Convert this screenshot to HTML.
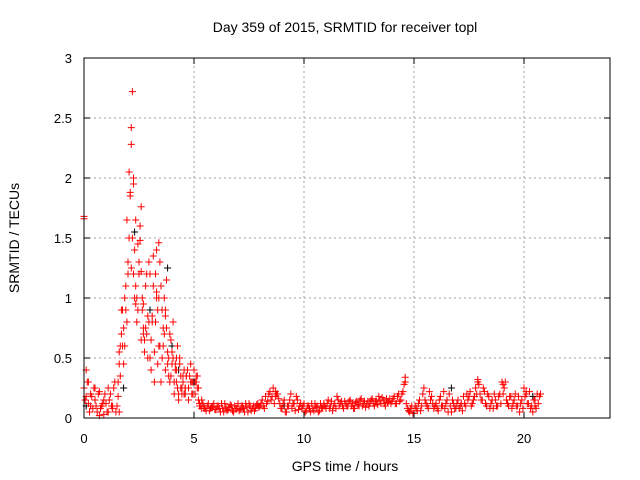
<!DOCTYPE html>
<html><head><meta charset="utf-8"><style>
html,body{margin:0;padding:0;background:#fff}
svg{display:block;font-family:"Liberation Sans",sans-serif}
</style></head><body>
<svg id="chart" width="640" height="480" xmlns="http://www.w3.org/2000/svg">
<rect width="640" height="480" fill="#fff"/>
<g id="grid"></g>
<g id="marks"></g>
<rect x="84" y="58" width="526" height="360" fill="none" stroke="#000" stroke-width="1"/>
<g id="ticks"></g>
<text x="345" y="32" font-size="14" text-anchor="middle">Day 359 of 2015, SRMTID for receiver topl</text>
<text x="345" y="471" font-size="14" text-anchor="middle">GPS time / hours</text>
<text transform="translate(19,238) rotate(-90)" font-size="14" text-anchor="middle">SRMTID / TECUs</text>
</svg>
<script>
const xTicks=[0,5,10,15,20];
const yTicks=[0,0.5,1,1.5,2,2.5,3];
const yTickLabels=["0","0.5","1","1.5","2","2.5","3"];
const red1V=[.25,.18,.12,.2,.08,.15,.05,.22,.1,.03,
.12,.05,.2,.08,.3,.1,.05,.7,.45,.9,
1.2,1.85,2.72,1.4,1.0,1.3,1.76,.7,1.1,.85,
.5,.8,.3,1.0,1.46,1.1,.6,.9,.45,.7,
.55,.3,.4,.2,.35,.3,.25,.4,.35,.3,
.4,.3,.15,.1,.12,.08,.1,.06,.09,.12,
.07,.1,.05,.08,.12,.06,.09,.1,.05,.08,
.12,.07,.1,.05,.09,.12,.06,.1,.08,.12,
.1,.15,.08,.12,.2,.15,.25,.18,.2,.12,
.08,.15,.05,.1,.2,.12,.06,.15,.1,.08,
.12,.06,.1,.05,.08,.12,.1,.06,.09,.12,
.08,.15,.1,.06,.12,.18,.1,.14,.08,.12,
.1,.15,.12,.08,.14,.1,.16,.12,.09,.14,
.12,.16,.1,.14,.18,.12,.15,.1,.13,.16,
.14,.18,.12,.2,.15,.22,.34,.08,.05,.1,
.04,.08,.12,.06,.2,.15,.1,.22,.18,.08,
.12,.06,.18,.1,.08,.15,.2,.05,.12,.08,
.15,.1,.06,.12,.2,.18,.1,.15,.25,.3,
.2,.15,.22,.1,.18,.12,.08,.15,.1,.2,
.3,.25,.15,.1,.18,.12,.2,.1,.05,.15,
.25,.2,.12,.08,.05,.15,.2,.18];
const red1Start=0, red1Step=0.1;
const red2V=[.3,.6,.9,.6,1.65,2.05,2.28,1.2,.95,1.45,
1.48,.9,.65,1.2,.8,.4,1.35,1.2,.9,.6,
.5,1.0,.75,.35,.65,.5,.4,.6,.45,.25,
.2,.35,.15,.45,.3,.2,.35,.1,.15,.08];
const red2Start=1.55, red2Step=0.1;
const red3V=[.15,.3,.05,.18,.25,.1,.2,.08,.12,.2,
.05,.15,.1,.25,.05,.18,.35,.6,1.0,.8,
1.5,1.25,2.0,1.1,.9,1.6,1.0,.55,.7,1.3,
.65,1.1,.8,.45,1.3,.9,.7,1.15,.5,.35,
.8,.45,.25,.5,.2,.4,.35,.25,.3,.2,
.3,.25,.12,.08,.1,.06,.12,.08,.1,.07,
.1,.08,.12,.05,.09,.07,.11,.06,.1,.08,
.06,.1,.08,.12,.05,.1,.08,.06,.11,.09,
.12,.1,.18,.14,.22,.18,.12,.2,.16,.08,
.12,.05,.1,.15,.08,.12,.18,.07,.12,.1,
.05,.1,.08,.12,.06,.09,.05,.12,.08,.1,
.12,.08,.14,.1,.08,.15,.12,.1,.14,.1,
.14,.1,.08,.13,.11,.15,.1,.14,.12,.1,
.15,.12,.14,.11,.15,.17,.12,.16,.14,.12,
.16,.12,.18,.14,.2,.28,.12,.06,.08,.04,
.1,.06,.15,.1,.25,.12,.08,.15,.12,.1,
.08,.15,.1,.22,.12,.05,.1,.15,.08,.12,
.08,.12,.18,.1,.15,.22,.12,.18,.2,.28,
.15,.25,.12,.2,.08,.15,.2,.1,.18,.12,
.2,.3,.12,.18,.08,.15,.1,.18,.12,.08,
.18,.12,.22,.1,.15,.08,.12,.2];
const red3Start=0.05, red3Step=0.1;
const red4V=[.45,.9,.75,1.1,1.3,1.88,1.5,1.0,.8,1.2,.65,.95,.75,.5,1.2,.85,.55,1.05,.6,.3,.75,.4,.55,.3,.45,.2,.3,.15,.25,.35,.2];
const red4Start=1.6, red4Step=0.1;
const redExtraT=[0,0,0.1,0.2,0.3,0.5,0.7,0.9,1.1,1.3,1.6,2.15,2.25,2.35,2.6,2.7,3.3,3.4,3.7,4.2,4.6,4.9,5.1,5.2,8.7,14.6,17.9,19.05,20.1,20.5];
const redExtraV=[1.66,1.68,.4,.3,.1,.25,.02,.15,.25,.1,.55,2.42,1.95,1.65,1.22,.75,1.4,1.0,.85,.5,.25,.2,.35,.25,.22,.3,.32,.28,.22,.1];
const blackT=[0.1,1.8,2.3,2.5,3.0,3.8,4.0,4.3,5.0,9.1,16.7,20.4];
const blackV=[.1,.25,1.55,1.3,.9,1.25,.6,.4,.3,.1,.25,.18];
const NS="http://www.w3.org/2000/svg";
const X0=84,X1=612,Y0=418,Y1=58;
const xs=t=>X0+t/24*(X1-X0);
const ys=v=>Y0-v/3*(Y0-Y1);
const grid=document.getElementById('grid'),ticks=document.getElementById('ticks'),marks=document.getElementById('marks');
function mk(tag,attrs,parent){const e=document.createElementNS(NS,tag);for(const k in attrs)e.setAttribute(k,attrs[k]);parent.appendChild(e);return e;}
xTicks.forEach(t=>{const x=xs(t);
 if(t>0){const l=mk('line',{x1:x,x2:x,y1:Y0,y2:Y1,stroke:'#a0a0a0','stroke-dasharray':'2,3'},grid);}
 const tk=mk('path',{d:`M${x},${Y0}v-6M${x},${Y1}v6`,stroke:'#000'},ticks);
 const tx=mk('text',{x:x,y:443,'font-size':13,'text-anchor':'middle'},ticks);tx.textContent=t;});
yTicks.forEach((v,i)=>{const y=ys(v);
 if(v>0&&v<3){const l=mk('line',{x1:X0,x2:610,y1:y,y2:y,stroke:'#a0a0a0','stroke-dasharray':'2,3'},grid);}
 const tk=mk('path',{d:`M${X0},${y}h6M610,${y}h-6`,stroke:'#000'},ticks);
 const tx=mk('text',{x:72,y:y+5,'font-size':13,'text-anchor':'end'},ticks);tx.textContent=yTickLabels[i];});
function plus(t,v,col,name){const x=xs(t),y=ys(v);const p=mk('path',{d:`M${x-3.5},${y}h7M${x},${y-3.5}v7`,stroke:col,'stroke-width':1},marks);}
blackT.forEach((t,i)=>plus(t,blackV[i],'#000','black-point'));
red1V.forEach((v,i)=>plus(red1Start+i*red1Step,v,'#f00','red-point'));
red2V.forEach((v,i)=>plus(red2Start+i*red2Step,v,'#f00','red-point'));
red3V.forEach((v,i)=>plus(red3Start+i*red3Step,v,'#f00','red-point'));
red4V.forEach((v,i)=>plus(red4Start+i*red4Step,v,'#f00','red-point'));
redExtraT.forEach((t,i)=>plus(t,redExtraV[i],'#f00','red-point'));
</script>
</body></html>
